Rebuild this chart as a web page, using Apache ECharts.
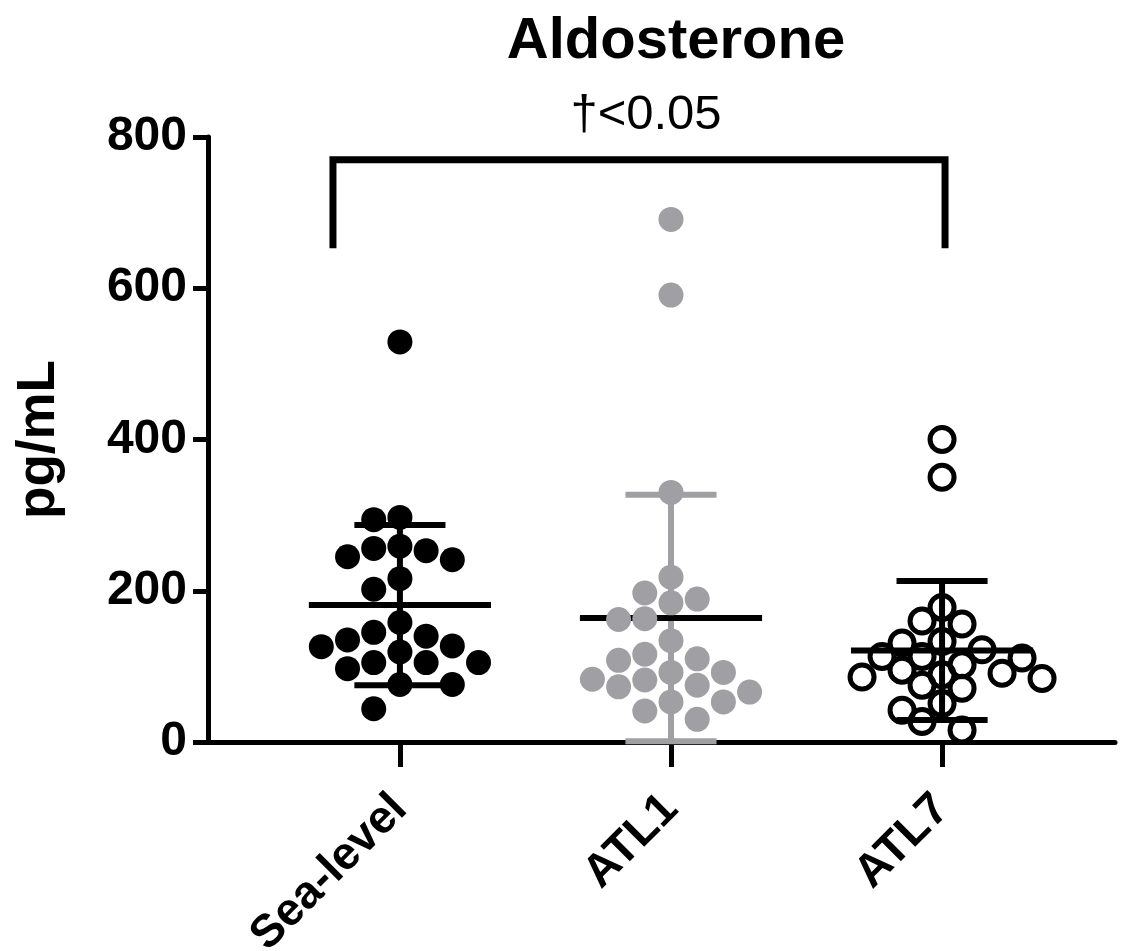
<!DOCTYPE html>
<html>
<head>
<meta charset="utf-8">
<script src="https://cdn.jsdelivr.net/npm/echarts@6/dist/echarts.min.js"></script>
<style>
  html, body { margin: 0; background: #fff; }
  #chart { width: 1122px; height: 951px; }
</style>
</head>
<body>
<div id="chart"></div>
<script>
// groups and values (pg/mL)
const groups = ["Sea-level", "ATL1", "ATL7"];
const seaLevel = [529, 297, 294, 259, 256, 253, 245, 241, 216, 202, 158, 145, 140, 135, 127, 126, 119, 105, 105, 105, 97, 76, 76, 44];
const atl1 = [691, 591, 330, 218, 197, 189, 184, 163, 162, 134, 116, 110, 108, 92, 92, 83, 82, 75, 73, 66, 53, 53, 41, 30];
const atl7 = [400, 350, 178, 160, 156, 133, 131, 122, 113, 113, 111, 102, 95, 91, 89, 86, 84, 75, 71, 51, 42, 27, 16];
// mean +/- SD as drawn
const means = [181, 164, 121];
const sds = [106, 163, 92];
const yTicks = [0, 200, 400, 600, 800];
const pLabel = "\u2020<0.05";

const grid = { left: 208, right: 7, top: 137, bottom: 209, outerBoundsMode: "none", containLabel: false };
const xMin = -0.708, xMax = 2.638;
const pxPerY = (951 - grid.top - grid.bottom) / 800;
const pxPerX = (1122 - grid.left - grid.right) / (xMax - xMin);
const font = "'Liberation Sans', Arial, Helvetica, sans-serif";

// simple beeswarm: put each point in the nearest free column slot
function swarm(values, slotPx, dPx) {
  const order = values.map((v, i) => i).sort((a, b) => values[b] - values[a]);
  const placed = [];
  const offs = [];
  order.forEach(i => {
    const py = values[i] * pxPerY;
    for (let k = 0; ; k++) {
      const cands = k === 0 ? [0] : [-k, k];
      let found = null;
      for (const s of cands) {
        const ok = placed.every(p => {
          const dx = (p.slot - s) * slotPx, dy = p.py - py;
          return dx * dx + dy * dy >= dPx * dPx;
        });
        if (ok) { found = s; break; }
      }
      if (found !== null) {
        placed.push({ slot: found, py: py });
        offs[i] = found * slotPx / pxPerX;
        break;
      }
    }
  });
  return offs;
}

function points(values, g, slotPx, dPx) {
  const offs = swarm(values, slotPx, dPx);
  return values.map((v, i) => [g + offs[i], v]);
}

const errColors = ["#000", "#a0a0a4", "#000"];

const myChart = echarts.init(document.getElementById("chart"));
const option = {
  animation: false,
  title: [
    {
      text: "Aldosterone",
      left: 671, top: 8, textAlign: "center",
      textStyle: { fontFamily: font, fontWeight: "bold", fontSize: 58, color: "#000" }
    },
    {
      text: pLabel,
      left: 641, top: 86, textAlign: "center",
      textStyle: { fontFamily: font, fontWeight: "normal", fontSize: 49, color: "#000" }
    }
  ],
  grid: grid,
  xAxis: {
    type: "value",
    min: xMin, max: xMax,
    splitLine: { show: false },
    axisLine: { lineStyle: { color: "#000", width: 5 } },
    axisTick: { customValues: [0, 1, 2], length: 25, lineStyle: { color: "#000", width: 5 } },
    axisLabel: {
      customValues: [0, 1, 2],
      formatter: v => groups[Math.round(v)],
      rotate: 45, margin: 60,
      fontFamily: font, fontWeight: "bold", fontSize: 46, color: "#000"
    }
  },
  yAxis: {
    type: "value",
    min: 0, max: 800, interval: 200,
    name: "pg/mL", nameLocation: "middle", nameGap: 142,
    nameTextStyle: { fontFamily: font, fontWeight: "bold", fontSize: 53, color: "#000" },
    splitLine: { show: false },
    axisLine: { show: true, onZero: false, lineStyle: { color: "#000", width: 5 } },
    axisTick: { show: true, length: 15, lineStyle: { color: "#000", width: 5 } },
    axisLabel: {
      margin: 21,
      formatter: v => (yTicks.indexOf(v) >= 0 ? String(v) : ""),
      fontFamily: font, fontWeight: "bold", fontSize: 48, color: "#000"
    }
  },
  series: [
    {
      // mean line and SD whiskers
      type: "custom",
      z: 1,
      data: means.map((m, i) => [i, m, sds[i]]),
      renderItem: function (params, api) {
        const g = api.value(0), m = api.value(1), s = api.value(2);
        const c = api.coord([g, m]);
        const top = api.coord([g, m + s]);
        const bot = api.coord([g, Math.max(0, m - s)]);
        const meanHalf = api.size([0.336, 0])[0];
        const capHalf = api.size([0.168, 0])[0];
        const col = errColors[g];
        const st = { stroke: col, lineWidth: 6 };
        return {
          type: "group",
          children: [
            { type: "line", shape: { x1: top[0], y1: top[1], x2: bot[0], y2: bot[1] }, style: st },
            { type: "line", shape: { x1: top[0] - capHalf, y1: top[1], x2: top[0] + capHalf, y2: top[1] }, style: st },
            { type: "line", shape: { x1: bot[0] - capHalf, y1: bot[1], x2: bot[0] + capHalf, y2: bot[1] }, style: st },
            { type: "line", shape: { x1: c[0] - meanHalf, y1: c[1], x2: c[0] + meanHalf, y2: c[1] }, style: { stroke: "#000", lineWidth: 6 } }
          ]
        };
      }
    },
    {
      name: groups[0], type: "scatter", z: 2,
      symbol: "circle", symbolSize: 25,
      itemStyle: { color: "#000", opacity: 1 },
      data: points(seaLevel, 0, 26.2, 25)
    },
    {
      name: groups[1], type: "scatter", z: 2,
      symbol: "circle", symbolSize: 25,
      itemStyle: { color: "#a0a0a4", opacity: 1 },
      data: points(atl1, 1, 26.2, 25)
    },
    {
      name: groups[2], type: "scatter", z: 2,
      symbol: "circle", symbolSize: 24,
      itemStyle: { color: "rgba(255,255,255,0)", borderColor: "#000", borderWidth: 5, opacity: 1 },
      data: points(atl7, 2, 20, 22)
    },
    {
      // significance bracket
      type: "line", z: 3,
      symbol: "none", silent: true,
      lineStyle: { color: "#000", width: 7, cap: "butt", join: "miter" },
      data: [[-0.247, 653], [-0.247, 770], [2.011, 770], [2.011, 653]]
    }
  ]
};
myChart.setOption(option);
window.addEventListener("resize", function () { myChart.resize(); });
</script>
</body>
</html>
